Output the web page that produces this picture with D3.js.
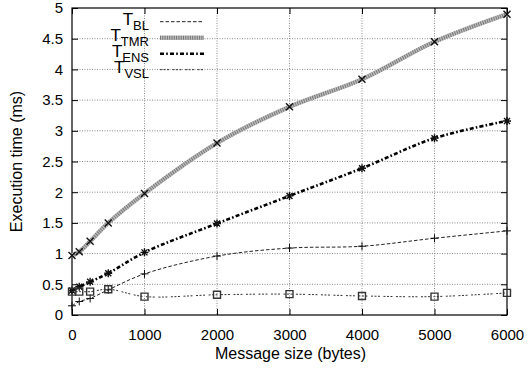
<!DOCTYPE html>
<html>
<head>
<meta charset="utf-8">
<script src="https://cdn.jsdelivr.net/npm/d3@7"></script>
<style>
  body { margin: 0; background: #fff; }
  text { font-family: "Liberation Sans", Arial, sans-serif; fill: #000; }
</style>
</head>
<body>
<svg id="chart" width="527" height="372"></svg>
<script>
// message sizes (bytes)
const sizes = [0, 100, 250, 500, 1000, 2000, 3000, 4000, 5000, 6000];
// execution times (ms)
const tBL  = [0.15, 0.22, 0.27, 0.41, 0.67, 0.96, 1.09, 1.12, 1.25, 1.37];
const tTMR = [0.97, 1.03, 1.20, 1.50, 1.98, 2.80, 3.39, 3.84, 4.45, 4.90];
const tENS = [0.40, 0.46, 0.54, 0.68, 1.02, 1.49, 1.94, 2.39, 2.88, 3.16];
const tVSL = [0.38, 0.38, 0.38, 0.42, 0.30, 0.33, 0.34, 0.31, 0.30, 0.36];

const xTicks = [0, 1000, 2000, 3000, 4000, 5000, 6000];
const yTicks = [0, 0.5, 1, 1.5, 2, 2.5, 3, 3.5, 4, 4.5, 5];

const series = [
    { sub: "BL",  values: tBL,  marker: "plus" },
    { sub: "TMR", values: tTMR, marker: "cross" },
    { sub: "ENS", values: tENS, marker: "star" },
    { sub: "VSL", values: tVSL, marker: "square" }
];

const plotLeft = 72, plotRight = 507, plotTop = 8, plotBottom = 315;

const svg = d3.select("#chart");

const x = d3.scaleLinear().domain([0, 6000]).range([plotLeft, plotRight]);
const y = d3.scaleLinear().domain([0, 5]).range([plotBottom, plotTop]);

// grid
svg.append("g")
    .selectAll("line")
    .data(xTicks.slice(1, -1))
    .enter()
    .append("line")
    .attr("x1", d => x(d)).attr("x2", d => x(d))
    .attr("y1", plotTop).attr("y2", plotBottom)
    .attr("stroke", "#8a8a8a")
    .attr("stroke-dasharray", "1,1.5");
svg.append("g")
    .selectAll("line")
    .data(yTicks.slice(1, -1))
    .enter()
    .append("line")
    .attr("x1", plotLeft).attr("x2", plotRight)
    .attr("y1", d => y(d)).attr("y2", d => y(d))
    .attr("stroke", "#8a8a8a")
    .attr("stroke-dasharray", "1,1.5");

// axes, ticks pointing inward on all four sides
const tickLen = 6;
svg.append("g")
    .attr("transform", `translate(0,${plotBottom})`)
    .call(d3.axisBottom(x).tickValues(xTicks).tickFormat(d3.format("d"))
        .tickSize(-tickLen).tickPadding(tickLen + 8).tickSizeOuter(0));
svg.append("g")
    .attr("transform", `translate(0,${plotTop})`)
    .call(d3.axisTop(x).tickValues(xTicks).tickSize(-tickLen).tickFormat("").tickSizeOuter(0));
svg.append("g")
    .attr("transform", `translate(${plotLeft},0)`)
    .call(d3.axisLeft(y).tickValues(yTicks).tickFormat(d => String(d))
        .tickSize(-tickLen).tickPadding(tickLen + 3).tickSizeOuter(0));
svg.append("g")
    .attr("transform", `translate(${plotRight},0)`)
    .call(d3.axisRight(y).tickValues(yTicks).tickSize(-tickLen).tickFormat("").tickSizeOuter(0));

svg.selectAll(".tick text")
    .style("font-family", "'Liberation Sans', Arial, sans-serif")
    .style("font-size", "15px");
svg.selectAll(".domain").remove();
svg.selectAll(".tick line").attr("stroke", "#000");

svg.append("rect")
    .attr("x", plotLeft).attr("y", plotTop)
    .attr("width", plotRight - plotLeft).attr("height", plotBottom - plotTop)
    .attr("fill", "none").attr("stroke", "#000").attr("stroke-width", 1.2);

// axis titles
svg.append("text")
    .attr("x", (plotLeft + plotRight) / 2 + 1).attr("y", 359)
    .attr("text-anchor", "middle")
    .style("font-size", "16px")
    .text("Message size (bytes)");
svg.append("text")
    .attr("transform", `translate(22,${(plotTop + plotBottom) / 2}) rotate(-90)`)
    .attr("text-anchor", "middle")
    .style("font-size", "16px")
    .text("Execution time (ms)");

// line styles
function styleLine(sel, sub) {
    if (sub === "BL") {
        sel.attr("stroke", "#222").attr("stroke-width", 1).attr("stroke-dasharray", "3.5,2");
    } else if (sub === "ENS") {
        sel.attr("stroke", "#000").attr("stroke-width", 2.6).attr("stroke-dasharray", "4,2.2,1.6,2.2");
    } else if (sub === "VSL") {
        sel.attr("stroke", "#333").attr("stroke-width", 1).attr("stroke-dasharray", "2,1.5,2,1.5,2,3.5");
    }
}

const line = d3.line()
    .x((d, i) => x(sizes[i]))
    .y(d => y(d))
    .curve(d3.curveCatmullRom.alpha(0.5));

const markerPath = {
    plus: "M-4,0H4M0,-4V4",
    cross: "M-3.5,-3.5L3.5,3.5M-3.5,3.5L3.5,-3.5",
    star: "M-4,0H4M0,-4V4M-3,-3L3,3M-3,3L3,-3",
    square: "M-3.5,-3.5H3.5V3.5H-3.5Z"
};

series.forEach(s => {
    const g = svg.append("g");
    if (s.sub === "TMR") {
        g.append("path").attr("d", line(s.values)).attr("fill", "none")
            .attr("stroke", "#bdbdbd").attr("stroke-width", 4.5);
        g.append("path").attr("d", line(s.values)).attr("fill", "none")
            .attr("stroke", "#777").attr("stroke-width", 4).attr("stroke-dasharray", "1,1.3");
    } else {
        g.append("path").attr("d", line(s.values)).attr("fill", "none").call(styleLine, s.sub);
    }
    g.selectAll("path.pt")
        .data(s.values)
        .enter()
        .append("path")
        .attr("class", "pt")
        .attr("transform", (d, i) => `translate(${x(sizes[i])},${y(d)})`)
        .attr("d", markerPath[s.marker])
        .attr("fill", "none")
        .attr("stroke", s.marker === "square" ? "#333" : "#111")
        .attr("stroke-width", s.marker === "plus" ? 1 : 1.4);
});

// legend
const legend = svg.append("g");
series.forEach((s, i) => {
    const ly = 21.7 + i * 16;
    const t = legend.append("text")
        .attr("x", 149).attr("y", ly + 3.5)
        .attr("text-anchor", "end")
        .style("font-size", "17px");
    t.append("tspan").text("T");
    t.append("tspan").attr("dy", 5).style("font-size", "13px").text(s.sub);
    if (s.sub === "TMR") {
        legend.append("line").attr("x1", 160).attr("x2", 204).attr("y1", ly).attr("y2", ly)
            .attr("stroke", "#bdbdbd").attr("stroke-width", 4.5);
        legend.append("line").attr("x1", 160).attr("x2", 204).attr("y1", ly).attr("y2", ly)
            .attr("stroke", "#777").attr("stroke-width", 4).attr("stroke-dasharray", "1,1.3");
    } else {
        legend.append("line").attr("x1", 160).attr("x2", 204).attr("y1", ly).attr("y2", ly)
            .call(styleLine, s.sub);
    }
});
</script>
</body>
</html>
